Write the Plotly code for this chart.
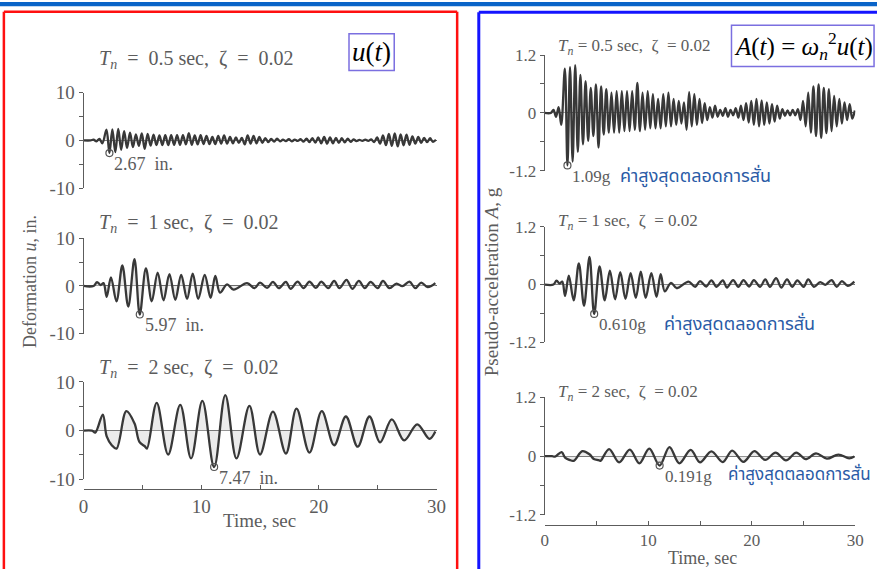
import numpy as np
import plotly.graph_objects as go

W, H = 895, 588
G_IN = 386.1  # in/s^2

def px_x(p):
    return p / W

def px_y(p):
    return 1 - p / H

# ---------------- data ----------------
periods = [0.5, 1.0, 2.0]

# Tn = 0.5 s : pseudo-acceleration extrema read from the A(t) panel (sec, g)
t_05 = [0, 0.6, 0.85, 1.1, 1.35, 1.6,
        1.95, 2.2, 2.45, 2.7, 2.95, 3.2, 3.45, 3.7, 3.95, 4.2, 4.45, 4.7, 4.95, 5.2, 5.45, 5.7,
        5.95, 6.2, 6.45, 6.7, 6.95, 7.2, 7.45, 7.7, 7.95, 8.2, 8.45, 8.7, 8.95, 9.2, 9.45, 9.7,
        9.95, 10.2, 10.45, 10.7, 10.95, 11.2, 11.45, 11.7, 11.95, 12.2, 12.45, 12.7, 12.95, 13.2,
        13.45, 13.7, 13.95, 14.2, 14.45, 14.7, 14.95, 15.2, 15.45, 15.7, 15.95, 16.2, 16.45, 16.7,
        16.95, 17.2, 17.45, 17.7, 17.95, 18.2, 18.45, 18.7, 18.95, 19.2, 19.45, 19.7, 19.95, 20.2,
        20.45, 20.7, 20.95, 21.2, 21.45, 21.7, 21.95, 22.2, 22.45, 22.7, 22.95, 23.2, 23.45, 23.7,
        23.95, 24.2, 24.45, 24.7, 24.95, 25.2, 25.45, 25.7, 25.95, 26.2, 26.45, 26.7, 26.95, 27.2,
        27.45, 27.7, 27.95, 28.2, 28.45, 28.7, 28.95, 29.2, 29.45, 29.7, 29.95]
a_05 = [0, 0, 0.06, -0.08, 0.12, -0.25,
        0.92, -1.09, 0.95, -1.01, 0.99, -0.81, 0.79, -0.65, 0.66, -0.58, 0.52, -0.48, 0.59, -0.72, 0.55, -0.45,
        0.49, -0.41, 0.42, -0.41, 0.45, -0.41, 0.45, -0.38, 0.45, -0.38, 0.45, -0.35, 0.62, -0.38, 0.42, -0.35,
        0.45, -0.32, 0.39, -0.32, 0.29, -0.32, 0.39, -0.28, 0.42, -0.28, 0.29, -0.25, 0.25, -0.22,
        0.22, -0.35, 0.43, -0.28, 0.39, -0.25, 0.29, -0.21, 0.2, -0.15, 0.12, -0.1, 0.15, -0.08,
        0.06, -0.06, 0.1, -0.08, 0.06, -0.05, 0.1, -0.1, 0.15, -0.15, 0.2, -0.2, 0.25, -0.25,
        0.29, -0.28, 0.26, -0.25, 0.22, -0.22, 0.18, -0.18, 0.15, -0.12, 0.08, -0.06, 0.05, -0.05,
        0.06, -0.05, 0.08, -0.15, 0.25, -0.28, 0.42, -0.41, 0.55, -0.48, 0.59, -0.52, 0.52, -0.42,
        0.49, -0.38, 0.35, -0.28, 0.29, -0.22, 0.22, -0.15, 0.18, -0.12, 0.05]

# Tn = 1 s : deformation extrema (sec, in.)
t_1 = [0, 0.85, 1.15, 1.45, 1.7, 1.97, 2.33, 2.8, 3.3, 3.8, 4.33, 4.78, 5.3, 5.8, 6.3,
       6.8, 7.3, 7.8, 8.3, 8.8, 9.28, 9.75, 10.3, 10.8, 11.2, 11.6, 12.2, 12.75, 13.9, 14.53,
       15.0, 15.6, 16.1, 16.6, 17.2, 17.6, 18.2, 18.7, 19.2, 19.75, 20.2, 20.8, 21.3, 21.75,
       22.35, 22.85, 23.4, 23.9, 24.4, 25.0, 25.45, 26.0, 26.6, 27.1, 27.7, 28.2, 28.7, 29.25, 29.9]
u_1 = [0, 0, 0.8, 0.2, 0.6, -2.3, 1.8, -3.2, 4.3, -4.3, 5.6, -5.97, 3.7, -3.2, 2.8,
       -3.0, 2.5, -2.9, 2.3, -2.7, 2.6, -2.7, 2.3, -2.5, 2.1, -1.4, 0.35, -0.75, 0.6, -0.45,
       0.7, -0.4, 0.85, -0.45, 0.85, -0.6, 0.9, -0.45, 0.9, -0.4, 0.9, -0.45, 1.05, -0.45,
       1.3, -0.6, 1.05, -0.45, 0.85, -0.45, 1.05, -0.45, 0.5, -0.05, 0.9, -0.45, 0.7, -0.25, 0.6]

# Tn = 2 s : deformation extrema (sec, in.)
t_2 = [0, 0.72, 1.0, 1.64, 1.97, 2.4, 2.8, 3.64, 4.33, 4.75, 5.2, 5.39, 6.22, 7.19, 8.22,
       9.14, 10.1, 11.1, 12.05, 13.0, 14.1, 15.0, 16.1, 17.2, 18.1, 19.2, 20.25, 21.3, 22.3,
       23.3, 24.3, 25.2, 26.2, 27.25, 28.36, 29.4, 29.9]
u_2 = [0, 0, -0.4, 3.3, -1.2, -3.0, -3.7, 4.0, 1.5, -2.3, -3.2, -3.7, 5.7, -4.9, 5.3,
       -5.7, 6.1, -7.47, 7.3, -5.7, 5.1, -4.9, 3.9, -4.7, 4.5, -4.5, 4.0, -3.0, 2.9,
       -3.3, 2.9, -2.4, 2.3, -2.0, 1.3, -1.7, -0.2]

period_text = ["0.5", "1", "2"]
peak_u_text = ["2.67 in.", "5.97 in.", "7.47 in."]
peak_a_text = ["1.09g", "0.610g", "0.191g"]
thai_note = "ค่าสูงสุดตลอดการสั่น"
left_ticks = [-10, -5, 0, 5, 10]
left_ticktext = ["-10", "", "0", "", "10"]
right_ticks = [-1.2, -0.6, 0, 0.6, 1.2]
right_ticktext = ["-1.2", "", "0", "", "1.2"]
x_ticks = [0, 5, 10, 15, 20, 25, 30]
x_ticktext = ["0", "", "10", "", "20", "", "30"]

# series: displacement and pseudo-acceleration, A = wn^2 u
omega2 = [(2 * np.pi / T) ** 2 for T in periods]
u_series = [np.array(a_05) * G_IN / omega2[0], np.array(u_1), np.array(u_2)]
a_series = [np.array(a_05), np.array(u_1) * omega2[1] / G_IN, np.array(u_2) * omega2[2] / G_IN]
t_series = [np.array(t_05), np.array(t_1), np.array(t_2)]

# ---------------- layout geometry (pixels) ----------------
left_x = (88, 447)
right_x = (557, 873)
left_y = [(94, 193), (245, 344), (394, 495)]
right_y = [(55, 175), (233, 353), (410, 532)]
left_xaxis_px = 505
right_xaxis_px = 542

INK = "#383838"
TXT = "#5c5c5c"
SERIF = "Liberation Serif, Times New Roman, serif"
THAI = "Noto Sans Thai, Noto Sans Thai Looped, Loma, Garuda, DejaVu Sans, sans-serif"
BLUE_TXT = "#2a5ba6"
NB = "\u00a0"

fig = go.Figure()
layout = dict(
    autosize=True, margin=dict(l=0, r=0, t=0, b=0),
    paper_bgcolor="white", plot_bgcolor="white", showlegend=False,
    annotations=[], shapes=[],
)

def add_axes(idx, xpx, ypx, yrange, ticks, ticktext, bottom_px, fsize):
    xa = dict(domain=[px_x(xpx[0]), px_x(xpx[1])], range=[0, 30], showgrid=False,
              zeroline=False)
    if bottom_px is None:
        xa.update(visible=False, anchor=f"y{idx}")
    else:
        xa.update(anchor="free", position=px_y(bottom_px), showline=True, linecolor=TXT,
                  linewidth=1, ticks="inside", ticklen=4, tickcolor=TXT,
                  tickvals=x_ticks, ticktext=x_ticktext,
                  tickfont=dict(family=SERIF, size=fsize, color=TXT))
    ya = dict(domain=[px_y(ypx[1]), px_y(ypx[0])], range=yrange, anchor=f"x{idx}",
              showgrid=False, showline=True, linecolor=TXT, linewidth=1,
              ticks="outside", ticklen=4, tickcolor=TXT, tickvals=ticks, ticktext=ticktext,
              tickfont=dict(family=SERIF, size=fsize, color=TXT),
              zeroline=True, zerolinecolor="#6a6a6a", zerolinewidth=1)
    layout[f"xaxis{idx}"] = xa
    layout[f"yaxis{idx}"] = ya

for k in range(3):
    add_axes(k + 1, left_x, left_y[k], [-10, 10], left_ticks, left_ticktext,
             left_xaxis_px if k == 2 else None, 19)
    add_axes(k + 4, right_x, right_y[k], [-1.2, 1.2], right_ticks, right_ticktext,
             right_xaxis_px if k == 2 else None, 17)

def ann(x, y, text, size, color=TXT, family=SERIF, xanchor="center", yanchor="middle", **kw):
    d = dict(x=x, y=y, xref="paper", yref="paper", text=text, showarrow=False,
             xanchor=xanchor, yanchor=yanchor, font=dict(family=family, size=size, color=color))
    d.update(kw)
    layout["annotations"].append(d)

for k in range(3):
    for side, vals in ((0, u_series[k]), (1, a_series[k])):
        idx = k + 1 + 3 * side
        t = t_series[k]
        fig.add_trace(go.Scatter(
            x=t, y=vals, mode="lines", xaxis=f"x{idx}", yaxis=f"y{idx}",
            line=dict(color=INK, width=2.3, shape="spline", smoothing=1.0),
            fill="tozeroy", fillcolor="rgba(215,215,215,0.5)", hoverinfo="skip"))
        imin = int(np.argmin(vals))
        fig.add_trace(go.Scatter(
            x=[t[imin]], y=[vals[imin]], mode="markers", xaxis=f"x{idx}", yaxis=f"y{idx}",
            marker=dict(symbol="circle-open", size=7, color="#555", line=dict(width=1.2)),
            hoverinfo="skip"))
        label = (peak_u_text[k] if side == 0 else peak_a_text[k]).replace(" ", NB + NB)
        layout["annotations"].append(dict(
            x=t[imin], y=vals[imin], xref=f"x{idx}", yref=f"y{idx}", text=label,
            showarrow=False, xanchor="left", yanchor="middle", xshift=3, yshift=-11,
            font=dict(family=SERIF, size=18 if side == 0 else 17, color=TXT)))

# subplot titles
left_title_y = [60, 230, 380]
right_title_y = [47, 228, 405]
for k in range(3):
    txt_l = (f"<i>T<sub>n</sub></i>{NB}{NB}={NB}{NB}{period_text[k]}{NB}sec,{NB}{NB}ζ{NB}{NB}={NB}{NB}0.02")
    txt_r = (f"<i>T<sub>n</sub></i>{NB}={NB}{period_text[k]}{NB}sec,{NB}{NB}ζ{NB}{NB}={NB}0.02")
    ann(px_x(102), px_y(left_title_y[k]), txt_l, 20, xanchor="left")
    ann(px_x(569), px_y(right_title_y[k]), txt_r, 17, xanchor="left")

# Thai notes
thai_pos = [(633, 181), (677, 334), (742, 491)]
for j, (xp, yp) in enumerate(thai_pos):
    ann(px_x(xp), px_y(yp), thai_note, 18 if j < 2 else 17, color=BLUE_TXT, family=THAI,
        xanchor="left", borderpad=0)

# axis titles
ann(px_x(33), px_y(290), "Deformation <i>u</i>, in.", 18, textangle=-90)
ann(px_x(503), px_y(290), "Pseudo-acceleration <i>A</i>, g", 19, textangle=-90)
ann(px_x(267), px_y(538), "Time, sec", 19)
ann(px_x(718), px_y(577), "Time, sec", 18, borderpad=0)

# formula boxes
layout["shapes"] += [
    dict(type="rect", xref="paper", yref="paper", x0=px_x(358), x1=px_x(404), y0=px_y(71), y1=px_y(33),
         line=dict(color="#7b6fe0", width=1.5), fillcolor="white"),
    dict(type="rect", xref="paper", yref="paper", x0=px_x(747), x1=px_x(892), y0=px_y(67), y1=px_y(24),
         line=dict(color="#7b6fe0", width=1.5), fillcolor="white"),
]
ann(px_x(381), px_y(52), "<i>u</i>(<i>t</i>)", 27, color="black")
ann(px_x(820), px_y(46),
    "<i>A</i>(<i>t</i>)" + NB + "=" + NB + "<i>ω</i><sub><i>n</i></sub><sup>2</sup><i>u</i>(<i>t</i>)",
    25, color="black")

# frame decorations (kept inside the page)
def seg(x0, y0, x1, y1, color, width):
    layout["shapes"].append(dict(type="line", xref="paper", yref="paper",
                                 x0=px_x(x0), y0=px_y(y0), x1=px_x(x1), y1=px_y(y1),
                                 line=dict(color=color, width=width)))

layout["shapes"].append(dict(type="rect", xref="paper", yref="paper", x0=0, x1=1, y0=px_y(4.5), y1=1,
                             line=dict(width=0), fillcolor="#0a64c8"))
RED, BLUE = "#ff1010", "#1414ff"
seg(7, 10, 468, 10, RED, 2.5)
seg(7, 10, 7, 588, RED, 2.5)
seg(468, 10, 468, 588, RED, 2.5)
seg(490, 10.5, 895, 10.5, BLUE, 3)
seg(490, 10.5, 490, 588, BLUE, 3)

fig.update_layout(**layout)
# the page body keeps its default 8px margin; pull the 895x588 plot div back over it
fig.write_html("out.html", default_width=f"{W}px;margin:-8px", default_height=f"{H}px")
